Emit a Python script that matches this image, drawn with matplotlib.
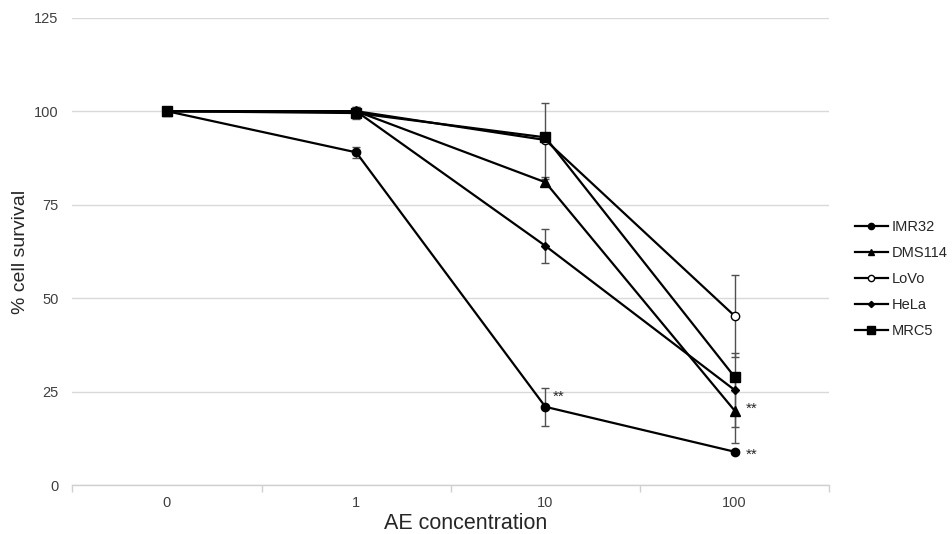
import numpy as np
import matplotlib
matplotlib.use("Agg")
import matplotlib.pyplot as plt
from matplotlib.ticker import FixedLocator

plt.rcParams['font.family'] = ['Liberation Sans', 'DejaVu Sans']

#%% data
conc = ["0", "1", "10", "100"]

imr32 = [100, 89, 21, 9]
imr32_err = [0, 1.5, 5, 0.5]
dms114 = [100, 100, 81, 20]
dms114_err = [0, 0.5, 1, 8.8]
lovo = [100, 100, 92.3, 45.3]
lovo_err = [0, 1, 9.8, 11]
hela = [100, 100, 64, 25.5]
hela_err = [0, 0.5, 4.5, 9.8]
mrc5 = [100, 99.5, 93, 29]
mrc5_err = [0, 1.5, 0.5, 0.8]

series = [("IMR32", imr32, imr32_err, "o", 6, "black"),
          ("DMS114", dms114, dms114_err, "^", 6.5, "black"),
          ("LoVo", lovo, lovo_err, "o", 6, "white"),
          ("HeLa", hela, hela_err, "D", 4.2, "black"),
          ("MRC5", mrc5, mrc5_err, "s", 7, "black")]

# significance marks: (series values, category index)
stars = [(imr32, 2), (dms114, 3), (imr32, 3)]
star_offsets = [(5, 7.5), (8, 1.5), (8, -2)]

#%% figure
fig = plt.figure(figsize=(9.52, 5.34), dpi=100)
ax = fig.add_axes([0.076, 0.091, 0.795, 0.876])
x = np.arange(len(conc))

for name, vals, err, mk, ms, fc in series:
    ax.errorbar(x, vals, yerr=err, fmt='none', ecolor='#505050',
                elinewidth=1, capsize=3, capthick=1, zorder=2)
for name, vals, err, mk, ms, fc in series:
    ax.plot(x, vals, color='black', linewidth=1.6, marker=mk, markersize=ms,
            markerfacecolor=fc, markeredgecolor='black', markeredgewidth=1,
            label=name, zorder=3)

for (vals, i), off in zip(stars, star_offsets):
    ax.annotate("**", xy=(x[i], vals[i]), xytext=off, textcoords='offset points',
                fontsize=11, color='#262626', ha='left', va='center')

ax.set_xlim(-0.5, 3.5)
ax.set_ylim(0, 125)
ax.set_yticks([0, 25, 50, 75, 100, 125])
ax.set_xticks(x)
ax.set_xticklabels(conc)
ax.xaxis.set_minor_locator(FixedLocator([-0.5, 0.5, 1.5, 2.5, 3.5]))
ax.tick_params(axis='x', which='major', length=0, pad=7.5, labelsize=10.5, labelcolor='#404040')
ax.tick_params(axis='x', which='minor', length=5, color='#d0d0d0', width=1)
ax.tick_params(axis='y', length=0, pad=10, labelsize=10.5, labelcolor='#404040')

ax.grid(axis='y', color='#d9d9d9', linewidth=1)
ax.set_axisbelow(True)
for s in ['top', 'right', 'left']:
    ax.spines[s].set_visible(False)
ax.spines['bottom'].set_color('#d0d0d0')
ax.spines['bottom'].set_linewidth(1)

ax.set_xlabel("AE concentration", fontsize=15.5, color='#262626', va='baseline')
ax.xaxis.set_label_coords(0.52, -0.093)
ax.set_ylabel("% cell survival", fontsize=14, color='#262626')
ax.yaxis.set_label_coords(-0.057, 0.5)

ax.legend(loc='center left', bbox_to_anchor=(0.884, 0.477), bbox_transform=fig.transFigure,
          frameon=False, fontsize=10.5, handlelength=2.26, handletextpad=0.27,
          labelspacing=0.82, markerscale=0.75, labelcolor='#262626')

fig.savefig("out.png", dpi=100)
